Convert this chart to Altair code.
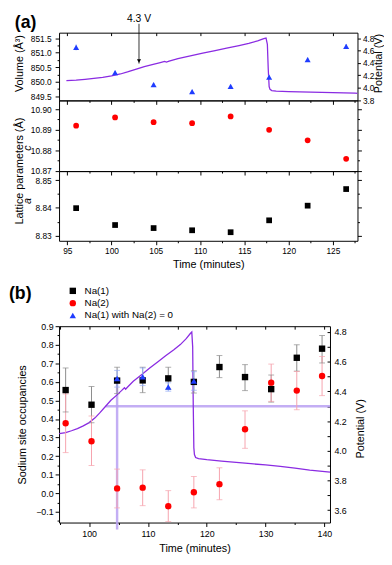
import altair as alt
import pandas as pd

FONT = "Liberation Sans"
BLUE = "#1f3cff"
RED = "#ff0000"
PURPLE = "#8a2be2"
LAV = "#b9a0f2"

# ---------------- panel (a) data ----------------
time_a = [96.0, 100.4, 104.75, 109.1, 113.45, 117.8, 122.15, 126.5]
volume = [851.18, 850.31, 849.90, 849.66, 849.84, 850.16, 850.76, 851.22]
volume_err = [0.10, 0.07, 0.06, 0.06, 0.06, 0.06, 0.07, 0.08]
lattice_c = [10.8920, 10.8960, 10.8937, 10.8932, 10.8965, 10.8900, 10.8849, 10.8759]
lattice_a = [8.8399, 8.8338, 8.8327, 8.8319, 8.8312, 8.8355, 8.8408, 8.8468]

# ---------------- panel (b) data ----------------
time_b = [96.0, 100.4, 104.75, 109.1, 113.45, 117.8, 122.15, 126.5, 130.95, 135.3, 139.6]
na1 = [0.556, 0.477, 0.607, 0.608, 0.619, 0.600, 0.680, 0.626, 0.561, 0.730, 0.779]
na1_lo = [0.438, 0.380, 0.537, 0.542, 0.560, 0.540, 0.623, 0.553, 0.491, 0.658, 0.702]
na1_hi = [0.675, 0.575, 0.679, 0.679, 0.679, 0.660, 0.742, 0.693, 0.637, 0.800, 0.850]
na2 = [0.377, 0.280, 0.026, 0.030, -0.070, 0.005, 0.049, 0.345, 0.596, 0.553, 0.632]
na2_lo = [0.219, 0.149, -0.079, -0.067, -0.153, -0.079, -0.035, 0.242, 0.495, 0.450, 0.526]
na2_hi = [0.535, 0.416, 0.130, 0.126, 0.014, 0.090, 0.137, 0.444, 0.696, 0.656, 0.737]
time_z = [104.75, 109.1, 113.45, 117.8]
na1_zero = [0.618, 0.628, 0.572, 0.605]
na1_zero_lo = [0.572, 0.580, 0.550, 0.555]
na1_zero_hi = [0.662, 0.675, 0.595, 0.655]

# ---------------- potential curve ----------------
pot_t = [94.9, 96.0, 97.0, 98.0, 99.0, 100.0, 101.0, 101.8, 102.8, 103.7, 104.7, 105.5,
         106.0, 106.2, 106.5, 107.5, 108.9, 110.3, 111.7, 113.0, 114.4, 115.5, 116.5,
         117.2, 117.45, 117.6, 117.7, 117.8, 117.9, 118.1, 118.6, 120.0, 122.5, 125.0,
         127.5, 130.0, 132.5, 135.0, 137.5, 140.95]
pot_v = [4.116, 4.122, 4.135, 4.150, 4.168, 4.190, 4.222, 4.255, 4.300, 4.340, 4.375, 4.405,
         4.425, 4.415, 4.428, 4.468, 4.512, 4.557, 4.600, 4.640, 4.680, 4.715, 4.755,
         4.790, 4.800, 4.700, 4.300, 4.020, 3.975, 3.955, 3.947, 3.940, 3.930, 3.922,
         3.913, 3.905, 3.895, 3.883, 3.870, 3.857]

# annotations
ARROW_T, ARROW_TIP, ARROW_HEAD, ARROW_TOP = 103.1, 4.39, 4.43, 5.03
HL_T0, HL_T1, HL_V = 102.8, 140.95, 4.30
VL_T, VL_V0, VL_V1 = 104.75, 4.46, 3.47

# ticks
XA_major = [95, 100, 105, 110, 115, 120, 125]
XA_minor = [97.5, 102.5, 107.5, 112.5, 117.5, 122.5, 127.5]
VOL_major = [849.5, 850.0, 850.5, 851.0, 851.5]
VOL_minor = [849.75, 850.25, 850.75, 851.25]
POTA_major = [3.8, 4.0, 4.2, 4.4, 4.6, 4.8]
POTA_minor = [3.9, 4.1, 4.3, 4.5, 4.7]
C_major = [10.87, 10.88, 10.89, 10.90]
C_minor = [10.875, 10.885, 10.895]
A_major = [8.83, 8.84, 8.85]
A_minor = [8.835, 8.845]
XB_major = [100, 110, 120, 130, 140]
XB_minor = [95, 105, 115, 125, 135]
XB_top = [95, 100, 105, 110, 115, 120, 125, 130, 135, 140]
OCC_major = [-0.1, 0.0, 0.1, 0.2, 0.3, 0.4, 0.5, 0.6, 0.7, 0.8, 0.9]
OCC_minor = [-0.15, -0.05, 0.05, 0.15, 0.25, 0.35, 0.45, 0.55, 0.65, 0.75, 0.85]
POTB_major = [3.6, 3.8, 4.0, 4.2, 4.4, 4.6, 4.8]
POTB_minor = [3.7, 3.9, 4.1, 4.3, 4.5, 4.7]

# domains
XA = [94.07, 127.78]
VOL = [849.355, 851.69]
POTA = [3.797, 4.887]
CDOM = [10.8699, 10.9043]
ADOM = [8.8281, 8.8533]
XB = [94.88, 140.95]
OCC = [-0.158, 0.9001]
POTB = [3.517, 4.839]


def axis(orient, values, size=4, labels=False, fmt=None, title=None, offset=0, pad=2, lfs=9, **extra):
    kw = dict(orient=orient, values=values, tickSize=size, labels=labels, offset=offset,
              domain=False, grid=False, ticks=True, tickColor="black", tickWidth=1)
    if labels:
        kw.update(labelPadding=pad, labelFont=FONT, labelFontSize=lfs, labelColor="black",
                  labelOverlap=False, labelFlush=False, labelBound=False)
        if fmt:
            kw["format"] = fmt
    if title is not None:
        kw.update(title=title, titleFont=FONT, titleFontSize=11, titleFontWeight="normal",
                  titleColor="black")
    else:
        kw["title"] = None
    kw.update(extra)
    return alt.Axis(**kw)


def X(field, dom, ax=None):
    return alt.X(field, type="quantitative", scale=alt.Scale(domain=dom, nice=False, zero=False), axis=ax)


def Y(field, dom, ax=None):
    return alt.Y(field, type="quantitative", scale=alt.Scale(domain=dom, nice=False, zero=False), axis=ax)


ROT_L = dict(titleAngle=270, titleBaseline="middle", titleAlign="center")

dfA = pd.DataFrame({"t": time_a, "vol": volume, "c": lattice_c, "a": lattice_a})
dfA["vlo"] = [v - e for v, e in zip(volume, volume_err)]
dfA["vhi"] = [v + e for v, e in zip(volume, volume_err)]
dfP = pd.DataFrame({"t": pot_t, "v": pot_v})
one = pd.DataFrame({"k": [0]})
arrow = pd.DataFrame({"t": [ARROW_T], "tip": [ARROW_TIP], "head": [ARROW_HEAD], "top": [ARROW_TOP]})


def ghost(df):
    return alt.Chart(df).mark_point(opacity=0, clip=True)


# ---------------- (a) volume panel ----------------
v_line = alt.Chart(dfP).mark_line(color=PURPLE, strokeWidth=1.3, clip=True).encode(
    x=X("t", XA, axis("top", XA_major, 3, offset=-3)),
    y=Y("v", POTA, axis("right", POTA_major, 3, labels=True, fmt=".1f", pad=2, lfs=8.5,
                        title="Potential (V)", titleX=21.5, titleY=31, **ROT_L)))
v_pmin = ghost(dfA).encode(
    x=X("t", XA), y=Y("vol", VOL, axis("right", POTA_minor, 2)))
v_err = alt.Chart(dfA).mark_rule(color="#a9bdf7", strokeWidth=1.5).encode(
    x=X("t", XA), y=Y("vlo", VOL), y2=alt.Y2("vhi"))
v_pts = alt.Chart(dfA).mark_point(shape="triangle-up", filled=True, size=38, color=BLUE, opacity=1).encode(
    x=X("t", XA, axis("bottom", XA_major, 4)),
    y=Y("vol", VOL, axis("left", VOL_major, 4, labels=True, fmt=".1f", pad=4, lfs=8.5,
                         title="Volume (Å³)", titleX=-40, titleY=31, **ROT_L)))
v_min = ghost(dfA).encode(
    x=X("t", XA, axis("bottom", XA_minor, 2)), y=Y("vol", VOL, axis("left", VOL_minor, 2)))
v_arrow = alt.Chart(arrow).mark_rule(color="black", strokeWidth=0.8).encode(
    x=X("t", XA), y=Y("top", POTA), y2=alt.Y2("tip"))
v_head = alt.Chart(arrow).mark_point(shape="triangle-down", filled=True, size=18, color="black", opacity=1).encode(
    x=X("t", XA), y=Y("head", POTA))
v_label = alt.Chart(arrow).mark_text(text="4.3 V", font=FONT, fontSize=10.5, baseline="top", align="center").encode(
    x=X("t", XA), y=alt.value(-19))
v_tag = alt.Chart(one).mark_text(text="(a)", font=FONT, fontSize=18, fontWeight="bold", align="left", baseline="top").encode(
    x=alt.value(-45), y=alt.value(-19))
V = alt.layer(v_line, v_pmin, v_err, v_pts, v_min, v_arrow, v_head, v_label, v_tag).resolve_scale(
    x="independent", y="independent").properties(width=304, height=69)

# ---------------- (a) c panel ----------------
c_pts = alt.Chart(dfA).mark_point(shape="circle", filled=True, size=34, color=RED, opacity=1).encode(
    x=X("t", XA, axis("bottom", XA_major, 4)),
    y=Y("c", CDOM, axis("left", C_major, 4, labels=True, fmt=".2f", pad=4, lfs=8.5, title="c",
                        titleX=-32, titleY=48, titleFontStyle="italic", **ROT_L)))
c_min = ghost(dfA).encode(
    x=X("t", XA, axis("bottom", XA_minor, 2)), y=Y("c", CDOM, axis("left", C_minor, 2)))
c_r1 = ghost(dfA).encode(x=X("t", XA), y=Y("c", CDOM, axis("right", C_major, 4)))
c_r2 = ghost(dfA).encode(x=X("t", XA), y=Y("c", CDOM, axis("right", C_minor, 2)))
c_lbl = alt.Chart(one).mark_text(text="Lattice parameters (Å)", font=FONT, fontSize=11, angle=270,
                                 align="center", baseline="middle").encode(x=alt.value(-39.5), y=alt.value(72))
C = alt.layer(c_pts, c_min, c_r1, c_r2, c_lbl).resolve_scale(
    x="independent", y="independent").properties(width=304, height=72)

# ---------------- (a) a panel ----------------
a_pts = alt.Chart(dfA).mark_point(shape="square", filled=True, size=34, color="black", opacity=1).encode(
    x=X("t", XA, axis("bottom", XA_major, 4, labels=True, fmt="d", pad=2, lfs=8.5,
                      title="Time (minutes)", titlePadding=4)),
    y=Y("a", ADOM, axis("left", A_major, 4, labels=True, fmt=".2f", pad=4, lfs=8.5, title="a",
                        titleX=-32, titleY=30, titleFontStyle="italic", **ROT_L)))
a_min = ghost(dfA).encode(
    x=X("t", XA, axis("bottom", XA_minor, 2)), y=Y("a", ADOM, axis("left", A_minor, 2)))
a_r1 = ghost(dfA).encode(x=X("t", XA), y=Y("a", ADOM, axis("right", A_major, 4)))
a_r2 = ghost(dfA).encode(x=X("t", XA), y=Y("a", ADOM, axis("right", A_minor, 2)))
Aa = alt.layer(a_pts, a_min, a_r1, a_r2).resolve_scale(
    x="independent", y="independent").properties(width=304, height=71)

top = alt.vconcat(V, C, Aa, spacing=0, bounds="flush")

# ---------------- (b) ----------------
SER = ["Na(1)", "Na(2)", "Na(1) with Na(2) = 0"]
rows, erows = [], []
for t, v, lo, hi in zip(time_b, na1, na1_lo, na1_hi):
    rows.append((SER[0], t, v)); erows.append((t, lo, hi, "#8c8c8c"))
for t, v, lo, hi in zip(time_b, na2, na2_lo, na2_hi):
    rows.append((SER[1], t, v)); erows.append((t, lo, hi, "#f6a2ad"))
for t, v, lo, hi in zip(time_z, na1_zero, na1_zero_lo, na1_zero_hi):
    rows.append((SER[2], t, v)); erows.append((t, lo, hi, "#93abf7"))
dfB = pd.DataFrame(rows, columns=["series", "t", "val"])
dfE = pd.DataFrame(erows, columns=["t", "lo", "hi", "col"])
ref_h = pd.DataFrame({"t0": [HL_T0], "t1": [HL_T1], "v": [HL_V]})
ref_v = pd.DataFrame({"t": [VL_T], "v0": [VL_V0], "v1": [VL_V1]})

b_ref_h = alt.Chart(ref_h).mark_rule(color=LAV, strokeWidth=2.5, opacity=0.85).encode(
    x=X("t0", XB), x2=alt.X2("t1"), y=Y("v", POTB))
b_ref_v = alt.Chart(ref_v).mark_rule(color=LAV, strokeWidth=2.5, opacity=0.85).encode(
    x=X("t", XB), y=Y("v0", POTB), y2=alt.Y2("v1"))
b_line = alt.Chart(dfP).mark_line(color=PURPLE, strokeWidth=1.3).encode(
    x=X("t", XB, axis("top", XB_top, 3, offset=-3)),
    y=Y("v", POTB, axis("right", POTB_major, 3, offset=-3, labels=True, fmt=".1f", pad=4,
                        title="Potential (V)", titleX=34, titleY=104, **ROT_L)))
b_pmin = ghost(dfP).encode(
    x=X("t", XB), y=Y("v", POTB, axis("right", POTB_minor, 3, offset=-3)))
b_bars = alt.Chart(dfE).mark_rule(strokeWidth=1).encode(
    x=X("t", XB), y=Y("lo", OCC), y2=alt.Y2("hi"), color=alt.Color("col:N", scale=None))
b_caps = alt.Chart(dfE).transform_fold(["lo", "hi"], as_=["end", "yv"]).mark_tick(
    orient="horizontal", size=6, thickness=1).encode(
    x=X("t", XB), y=Y("yv", OCC), color=alt.Color("col:N", scale=None))
b_min = ghost(dfB).encode(
    x=X("t", XB, axis("bottom", XB_minor, 2)), y=Y("val", OCC, axis("left", OCC_minor, 2)))
b_pts = alt.Chart(dfB).mark_point(filled=True, size=42, opacity=1).encode(
    x=X("t", XB, axis("bottom", XB_major, 4, labels=True, fmt="d", pad=3, title="Time (minutes)", titlePadding=4)),
    y=Y("val", OCC, axis("left", OCC_major, 4, labels=True, fmt=".1f", pad=2,
                         title="Sodium site occupancies", titleX=-37, titleY=100, **ROT_L)),
    color=alt.Color("series:N", scale=alt.Scale(domain=SER, range=["black", RED, BLUE]),
                    legend=alt.Legend(orient="none", legendX=9, legendY=-41, title=None, symbolSize=42,
                                      labelFont=FONT, labelFontSize=10, labelColor="black",
                                      rowPadding=2.5, padding=0, labelOffset=7)),
    shape=alt.Shape("series:N", scale=alt.Scale(domain=SER, range=["square", "circle", "triangle-up"])))
b_tag = alt.Chart(one).mark_text(text="(b)", font=FONT, fontSize=18, fontWeight="bold", align="left", baseline="top").encode(
    x=alt.value(-51), y=alt.value(-42))
B = alt.layer(b_ref_h, b_ref_v, b_line, b_pmin, b_bars, b_caps, b_min, b_pts, b_tag).resolve_scale(
    x="independent", y="independent", color="independent", shape="independent").properties(width=276, height=200)

chart = alt.vconcat(top, B, spacing=14).properties(padding=0, background="white").configure_view(
    stroke="black", strokeWidth=1)

chart.save("out.html", embed_options={"renderer": "svg", "actions": False})
